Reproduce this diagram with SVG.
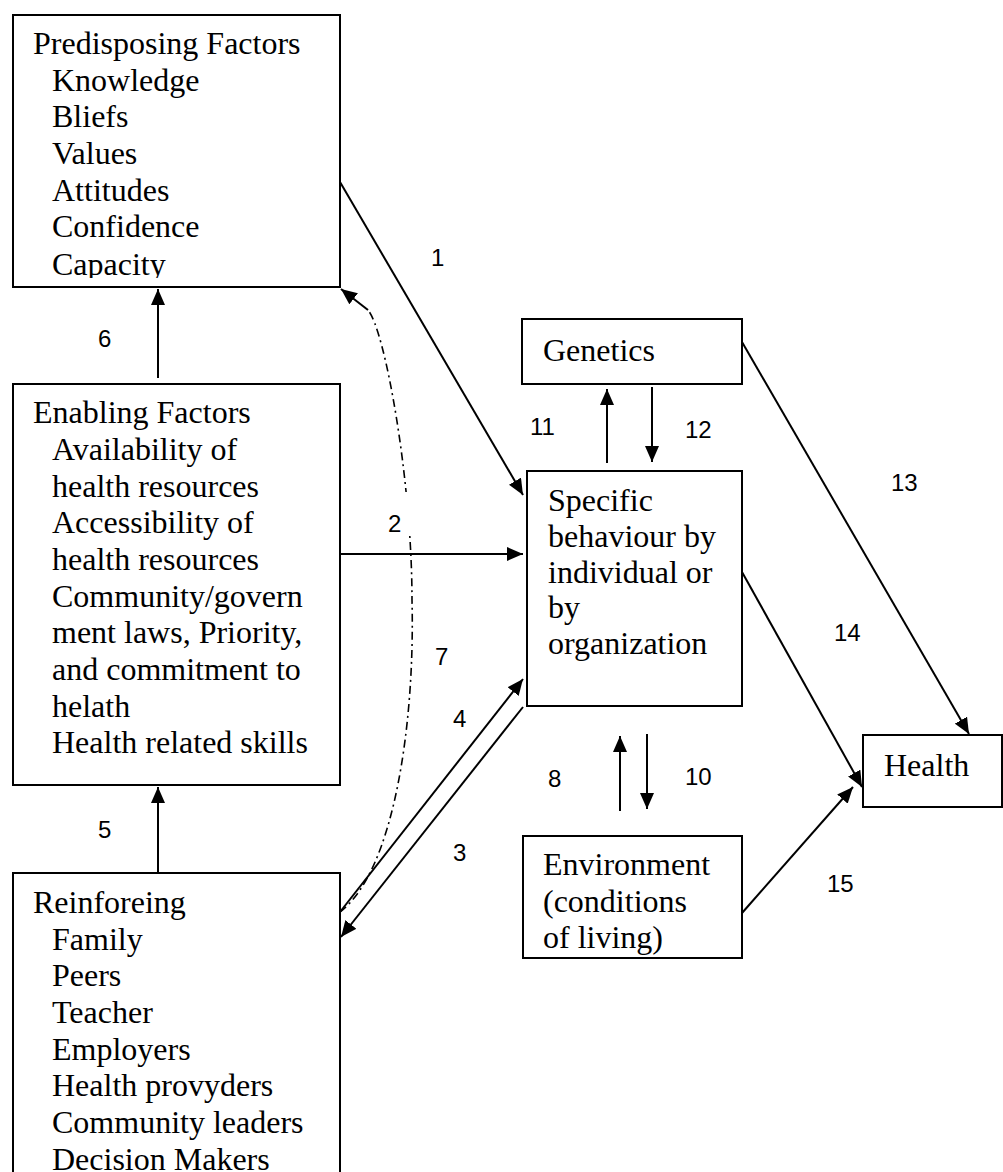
<svg xmlns="http://www.w3.org/2000/svg" width="1003" height="1172" viewBox="0 0 1003 1172">
<style>
.box{fill:#fff;stroke:#000;stroke-width:2}
.t{font-family:"Liberation Serif","Times New Roman",serif;font-size:32px;fill:#000}
.n{font-family:"Liberation Sans",Arial,sans-serif;font-size:24px;fill:#000}
.c{stroke:#000;stroke-width:2;fill:none}
.dd{stroke:#000;stroke-width:1.6;fill:none;stroke-dasharray:8 4 2 4}
</style>
<defs>
<marker id="ah" markerWidth="16" markerHeight="14" refX="16" refY="7" orient="auto" markerUnits="userSpaceOnUse">
<path d="M0,0 L16,7 L0,14 z" fill="#000"/>
</marker>
<clipPath id="clip1"><rect x="13" y="15" width="327" height="263"/></clipPath>
<mask id="gap"><rect x="0" y="0" width="1003" height="1172" fill="#fff"/><rect x="395" y="492" width="30" height="42" fill="#000"/></mask>
</defs>
<rect width="1003" height="1172" fill="#fff"/>

<g id="predisposing">
<rect class="box" x="13" y="15" width="327" height="272"/>
<g clip-path="url(#clip1)">
<text class="t" x="33" y="54">Predisposing Factors</text>
<text class="t" x="52" y="91">Knowledge</text>
<text class="t" x="52" y="127">Bliefs</text>
<text class="t" x="52" y="164">Values</text>
<text class="t" x="52" y="201">Attitudes</text>
<text class="t" x="52" y="237">Confidence</text>
<text class="t" x="52" y="275">Capacity</text>
</g>
</g>

<g id="enabling">
<rect class="box" x="13" y="384" width="327" height="401"/>
<text class="t" x="33" y="423">Enabling Factors</text>
<text class="t" x="52" y="460">Availability of</text>
<text class="t" x="52" y="497">health resources</text>
<text class="t" x="52" y="533">Accessibility of</text>
<text class="t" x="52" y="570">health resources</text>
<text class="t" x="52" y="607">Community/govern</text>
<text class="t" x="52" y="643">ment laws, Priority,</text>
<text class="t" x="52" y="680">and commitment to</text>
<text class="t" x="52" y="717">helath</text>
<text class="t" x="52" y="753">Health related skills</text>
</g>

<g id="reinforcing">
<rect class="box" x="13" y="873" width="327" height="320"/>
<text class="t" x="33" y="913">Reinforeing</text>
<text class="t" x="52" y="950">Family</text>
<text class="t" x="52" y="986">Peers</text>
<text class="t" x="52" y="1023">Teacher</text>
<text class="t" x="52" y="1060">Employers</text>
<text class="t" x="52" y="1096">Health provyders</text>
<text class="t" x="52" y="1133">Community leaders</text>
<text class="t" x="52" y="1170">Decision Makers</text>
</g>

<g id="genetics">
<rect class="box" x="522" y="319" width="220" height="65"/>
<text class="t" x="543" y="361">Genetics</text>
</g>

<g id="behaviour">
<rect class="box" x="527" y="471" width="215" height="235"/>
<text class="t" x="548" y="511">Specific</text>
<text class="t" x="548" y="547">behaviour by</text>
<text class="t" x="548" y="583">individual or</text>
<text class="t" x="548" y="618">by</text>
<text class="t" x="548" y="654">organization</text>
</g>

<g id="environment">
<rect class="box" x="523" y="836" width="219" height="122"/>
<text class="t" x="543" y="875">Environment</text>
<text class="t" x="543" y="912">(conditions</text>
<text class="t" x="543" y="948">of living)</text>
</g>

<g id="health">
<rect class="box" x="863" y="735" width="139" height="72"/>
<text class="t" x="884" y="776">Health</text>
</g>

<g id="connectors">
<line class="c" x1="340" y1="182" x2="523" y2="495" marker-end="url(#ah)"/>
<line class="c" x1="340" y1="554" x2="523" y2="554" marker-end="url(#ah)"/>
<line class="c" x1="523" y1="707" x2="341" y2="937" marker-end="url(#ah)"/>
<line class="c" x1="340" y1="912" x2="523" y2="679" marker-end="url(#ah)"/>
<line class="c" x1="158" y1="872" x2="158" y2="787" marker-end="url(#ah)"/>
<line class="c" x1="158" y1="378" x2="158" y2="289" marker-end="url(#ah)"/>
<path class="dd" mask="url(#gap)" d="M340,912 C395,870 415,720 412,600 C412,480 385,330 368,310"/>
<line class="c" x1="368" y1="310" x2="341" y2="289" marker-end="url(#ah)"/>
<line class="c" x1="620" y1="811" x2="620" y2="736" marker-end="url(#ah)"/>
<line class="c" x1="647" y1="734" x2="647" y2="809" marker-end="url(#ah)"/>
<line class="c" x1="607" y1="463" x2="607" y2="389" marker-end="url(#ah)"/>
<line class="c" x1="652" y1="387" x2="652" y2="462" marker-end="url(#ah)"/>
<line class="c" x1="742" y1="342" x2="969" y2="734" marker-end="url(#ah)"/>
<line class="c" x1="742" y1="572" x2="862" y2="787" marker-end="url(#ah)"/>
<line class="c" x1="742" y1="913" x2="853" y2="787" marker-end="url(#ah)"/>
</g>

<g id="labels">
<text class="n" x="431" y="266">1</text>
<text class="n" x="388" y="532">2</text>
<text class="n" x="453" y="861">3</text>
<text class="n" x="453" y="727">4</text>
<text class="n" x="98" y="838">5</text>
<text class="n" x="98" y="347">6</text>
<text class="n" x="435" y="665">7</text>
<text class="n" x="548" y="787">8</text>
<text class="n" x="685" y="785">10</text>
<text class="n" x="530" y="435">11</text>
<text class="n" x="685" y="438">12</text>
<text class="n" x="891" y="491">13</text>
<text class="n" x="834" y="641">14</text>
<text class="n" x="827" y="892">15</text>
</g>
</svg>
